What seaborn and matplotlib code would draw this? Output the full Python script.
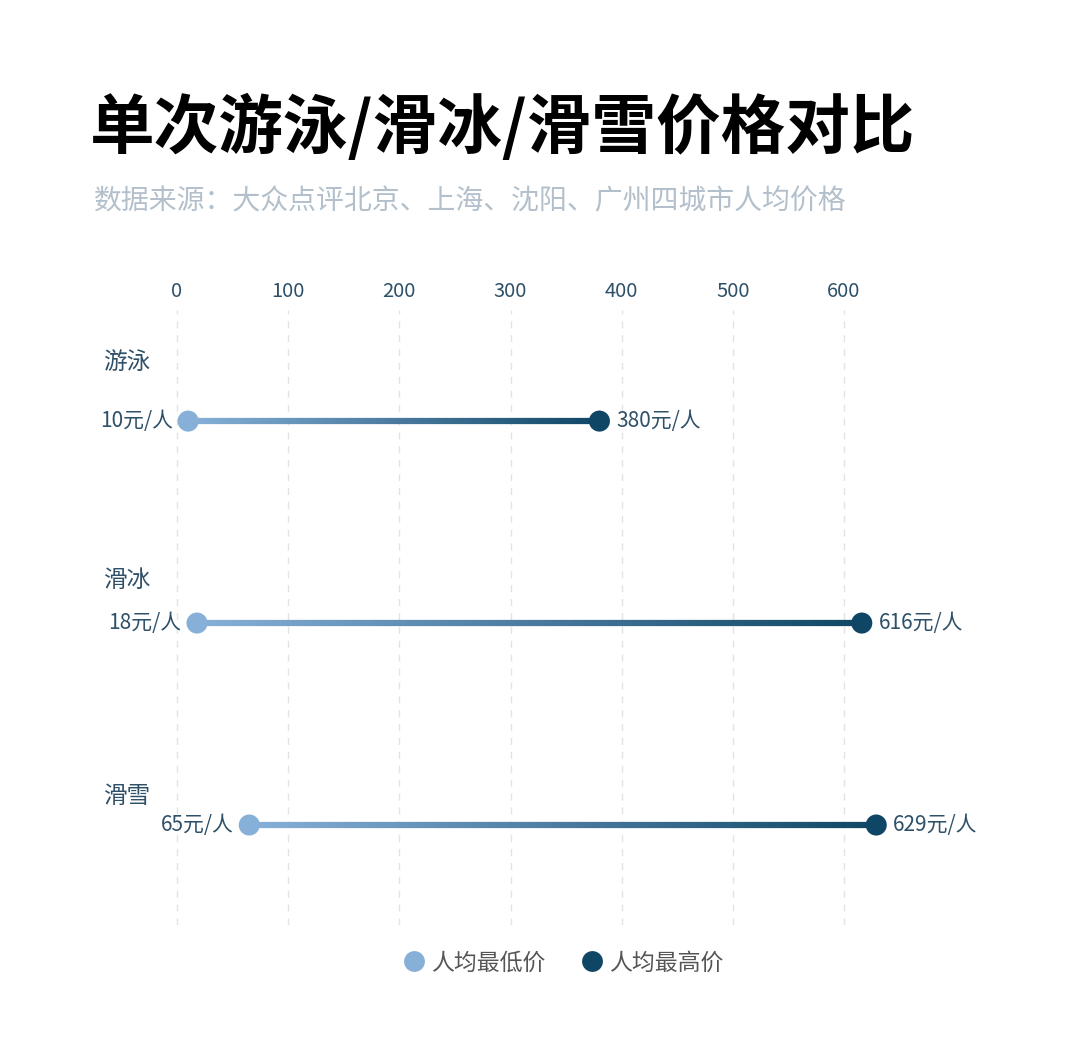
import numpy as np
import pandas as pd
import matplotlib
matplotlib.use("Agg")
import matplotlib.pyplot as plt
import seaborn as sns
from matplotlib.collections import LineCollection
from matplotlib.lines import Line2D

# ---- data ----
categories = ["游泳", "滑冰", "滑雪"]
low_prices = [10, 18, 65]
high_prices = [380, 616, 629]
x_ticks = [0, 100, 200, 300, 400, 500, 600]
series_names = ["人均最低价", "人均最高价"]
title = "单次游泳/滑冰/滑雪价格对比"
subtitle = "数据来源：大众点评北京、上海、沈阳、广州四城市人均价格"

LIGHT = "#86b0d8"
DARK = "#0f4665"
TEXT = "#2e5068"

sns.set_theme(style="white")
plt.rcParams["font.family"] = ["Noto Sans CJK SC", "DejaVu Sans"]

W, H = 1080, 1057
fig = plt.figure(figsize=(W / 100, H / 100), dpi=100)
fig.patch.set_facecolor("white")

# axes placement in pixels: x 0 -> 177px, 600 -> 844px ; grid spans y 310..925
px_per_unit = (844 - 177) / 600
x0 = -177 / px_per_unit
x1 = (W - 177) / px_per_unit
ax = fig.add_axes([0, 1 - 925 / H, 1, (925 - 310) / H])
ax.set_facecolor("white")
ax.set_xlim(x0, x1)
ax.set_ylim(2.495, -0.55)

df = pd.DataFrame({
    "category": categories * 2,
    "pos": list(range(len(categories))) * 2,
    "price": low_prices + high_prices,
    "series": [series_names[0]] * len(categories) + [series_names[1]] * len(categories),
})

# grid lines
for t in x_ticks:
    ax.axvline(t, color="#e3e3e3", lw=1.0, ls=(0, (5, 5)), zorder=0)

# gradient lines
cmap = matplotlib.colors.LinearSegmentedColormap.from_list("g", [LIGHT, DARK])
for i, (lo, hi) in enumerate(zip(low_prices, high_prices)):
    xs = np.linspace(lo, hi, 200)
    pts = np.column_stack([xs, np.full_like(xs, i)])
    segs = np.stack([pts[:-1], pts[1:]], axis=1)
    lc = LineCollection(segs, cmap=cmap, linewidths=4.5, capstyle="butt", zorder=2)
    lc.set_array(np.linspace(0, 1, len(segs)))
    ax.add_collection(lc)

sns.scatterplot(data=df, x="price", y="pos", hue="series",
                palette=[LIGHT, DARK], s=230, edgecolor="none",
                legend=False, ax=ax, zorder=3)

# value labels
for i, (lo, hi) in enumerate(zip(low_prices, high_prices)):
    ax.annotate(f"{lo}元/人", (lo, i), xytext=(-11, 0), textcoords="offset points",
                ha="right", va="center", fontsize=15, color=TEXT)
    ax.annotate(f"{hi}元/人", (hi, i), xytext=(12, 0), textcoords="offset points",
                ha="left", va="center", fontsize=15, color=TEXT)

# category labels
label_y = [-0.292, 0.787, 1.861]
for i, c in enumerate(categories):
    ax.text(-66.5, label_y[i], c, ha="left", va="center", fontsize=17, color=TEXT)

ax.set_xticks(x_ticks)
ax.set_xticklabels([str(t) for t in x_ticks])
ax.xaxis.set_ticks_position("top")
ax.tick_params(axis="x", length=0, pad=5.5, labelsize=14.5, labelcolor=TEXT)
ax.set_yticks([])
ax.set_xlabel("")
ax.set_ylabel("")
for s in ax.spines.values():
    s.set_visible(False)

# title & subtitle
fig.text(90 / W, 1 - 128 / H, title, fontsize=46.5, fontweight="black",
         color="black", ha="left", va="center")
fig.text(94 / W, 1 - 201 / H, subtitle, fontsize=20.1, fontweight="light",
         color="#b3c0cb", ha="left", va="center")

# legend
handles = [Line2D([0], [0], marker="o", ls="none", markersize=15,
                  markerfacecolor=col, markeredgecolor="none")
           for col in (LIGHT, DARK)]
leg = fig.legend(handles, series_names, loc="center", bbox_to_anchor=(563 / W, 1 - 963 / H),
                 ncol=2, frameon=False, fontsize=16.5, handletextpad=0.25,
                 columnspacing=1.5, handlelength=1.0)
for t in leg.get_texts():
    t.set_color("#555555")

fig.savefig("out.png", dpi=100, facecolor="white")
